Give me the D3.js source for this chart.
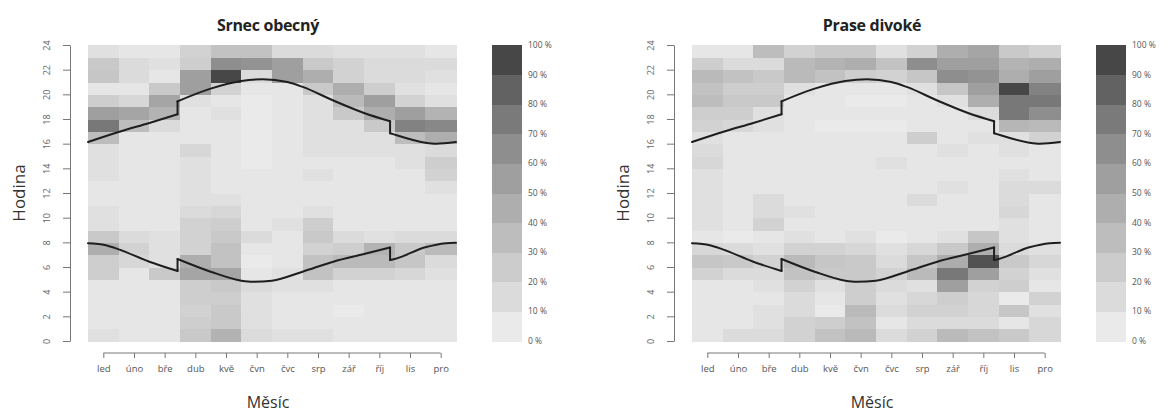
<!DOCTYPE html>
<html>
<head>
<meta charset="utf-8">
<script src="https://cdn.jsdelivr.net/npm/d3@7"></script>
<style>
  body { margin: 0; background: #fff; }
  svg { display: block; font-family: "Open Sans", sans-serif; }
</style>
</head>
<body>
<div id="chart"></div>
<script>
// months on x, hour-of-day on y
var months = ["led", "úno", "bře", "dub", "kvě", "čvn", "čvc", "srp", "zář", "říj", "lis", "pro"]
var hourTicks = [0, 2, 4, 6, 8, 10, 12, 14, 16, 18, 20, 22, 24]
var titles = ["Srnec obecný", "Prase divoké"]

// activity share (%) per hour (row 0 = 0-1 h) and month
var srnec = [
  [12, 8, 8, 27, 42, 15, 12, 12, 8, 8, 8, 8],
  [8, 8, 8, 24, 27, 12, 8, 8, 8, 8, 8, 8],
  [8, 8, 8, 21, 27, 12, 8, 8, 4, 8, 8, 8],
  [8, 8, 8, 24, 24, 12, 8, 8, 8, 8, 8, 8],
  [8, 8, 8, 24, 27, 15, 12, 12, 8, 8, 8, 8],
  [24, 8, 27, 51, 51, 8, 12, 32, 21, 21, 18, 12],
  [24, 18, 12, 45, 32, 4, 8, 32, 37, 37, 29, 15],
  [45, 21, 12, 21, 32, 8, 8, 21, 24, 42, 27, 37],
  [27, 15, 12, 21, 27, 15, 8, 27, 15, 12, 15, 15],
  [12, 8, 8, 21, 24, 8, 12, 24, 8, 8, 8, 8],
  [12, 8, 8, 15, 18, 8, 8, 12, 8, 8, 8, 8],
  [8, 8, 8, 12, 12, 8, 8, 8, 8, 8, 8, 8],
  [8, 8, 8, 12, 8, 8, 8, 8, 8, 8, 8, 12],
  [12, 8, 8, 12, 8, 8, 8, 12, 8, 8, 8, 21],
  [12, 8, 8, 12, 8, 4, 8, 8, 8, 8, 12, 24],
  [12, 8, 8, 18, 8, 4, 8, 12, 12, 12, 12, 15],
  [35, 8, 8, 8, 8, 4, 8, 12, 12, 12, 35, 45],
  [76, 35, 15, 8, 8, 4, 8, 12, 12, 27, 71, 68],
  [55, 51, 42, 8, 12, 4, 8, 12, 27, 45, 55, 42],
  [24, 18, 51, 12, 8, 4, 8, 12, 37, 55, 21, 12],
  [8, 8, 27, 55, 21, 8, 8, 27, 45, 24, 12, 8],
  [29, 15, 8, 55, 96, 15, 55, 45, 21, 15, 15, 12],
  [27, 15, 12, 24, 65, 62, 55, 27, 21, 15, 15, 15],
  [12, 8, 8, 21, 32, 32, 15, 15, 12, 12, 12, 8]
]

var prase = [
  [8, 15, 15, 21, 32, 37, 15, 21, 37, 32, 27, 18],
  [8, 8, 12, 21, 24, 32, 8, 15, 15, 15, 8, 18],
  [8, 8, 12, 15, 4, 37, 15, 21, 21, 18, 29, 12],
  [8, 8, 8, 15, 8, 24, 12, 18, 24, 18, 4, 21],
  [8, 8, 12, 21, 12, 24, 15, 12, 55, 21, 24, 8],
  [21, 15, 15, 32, 27, 27, 21, 37, 76, 55, 21, 12],
  [29, 27, 21, 37, 29, 27, 15, 29, 46, 91, 27, 18],
  [18, 15, 12, 21, 21, 18, 12, 18, 27, 45, 15, 12],
  [8, 4, 8, 12, 8, 12, 4, 8, 12, 29, 12, 8],
  [12, 8, 21, 8, 8, 8, 8, 8, 8, 8, 12, 8],
  [12, 8, 15, 12, 8, 8, 8, 8, 8, 8, 18, 8],
  [12, 8, 15, 8, 8, 8, 8, 15, 8, 8, 15, 8],
  [12, 8, 8, 8, 8, 8, 8, 8, 12, 8, 15, 15],
  [12, 8, 8, 8, 8, 8, 8, 8, 8, 8, 12, 8],
  [18, 8, 8, 8, 8, 8, 12, 8, 8, 8, 8, 8],
  [15, 8, 8, 8, 8, 8, 8, 8, 12, 8, 12, 8],
  [12, 8, 8, 8, 8, 8, 8, 24, 8, 12, 12, 21],
  [21, 18, 12, 8, 4, 4, 4, 8, 8, 8, 40, 37],
  [24, 24, 12, 8, 8, 8, 8, 8, 8, 15, 76, 65],
  [35, 27, 27, 8, 8, 4, 4, 8, 12, 45, 76, 76],
  [32, 24, 24, 12, 8, 8, 8, 12, 29, 55, 96, 71],
  [37, 32, 27, 37, 32, 24, 21, 29, 65, 62, 45, 55],
  [24, 15, 15, 37, 42, 45, 32, 65, 55, 55, 42, 45],
  [8, 8, 35, 21, 27, 27, 12, 21, 45, 51, 27, 21]
]

// sunrise / sunset (hour) read along the year, split at the DST jumps
var sunset = [
  [[0.5, 16.14], [1.5, 16.95], [2.5, 17.68], [3.42, 18.38]],
  [[3.42, 19.43], [4.5, 20.46], [5.5, 21.08], [6.2, 21.22], [7.0, 21.0], [7.5, 20.6], [8.5, 19.5], [9.5, 18.49], [10.35, 17.82]],
  [[10.35, 16.85], [10.5, 16.73], [11.5, 16.08], [11.85, 16.0], [12.5, 16.14]]
]
var sunrise = [
  [[0.5, 7.92], [1.08, 7.76], [1.5, 7.43], [2.5, 6.43], [3.42, 5.68]],
  [[3.42, 6.65], [4.5, 5.62], [5.5, 4.89], [5.87, 4.8], [6.5, 4.89], [7.5, 5.62], [8.5, 6.43], [9.5, 7.05], [10.35, 7.58]],
  [[10.35, 6.57], [10.5, 6.65], [11.5, 7.6], [12.17, 7.93], [12.5, 7.97]]
]

var legendBreaks = [0, 10, 20, 30, 40, 50, 60, 70, 80, 90, 100]
var grays = ["#eaeaea", "#dbdbdb", "#cccccc", "#bdbdbd", "#aeaeae", "#9f9f9f", "#8e8e8e", "#7a7a7a", "#626262", "#474747"]

var width = 1168, height = 415
var panelShift = 604

var color = d3.scaleLinear()
    .domain(legendBreaks.slice(0, 10).map(d => d + 5))
    .range(grays)
    .clamp(true)

var x = d3.scaleLinear().domain([0.5, 12.5]).range([88, 456])
var y = d3.scaleLinear().domain([0, 24]).range([341, 45])
var yLeg = d3.scaleLinear().domain([0, 100]).range([341, 45])

var svg = d3.select('#chart').append('svg')
    .attr('width', width)
    .attr('height', height)

var line = d3.line()
    .x(d => x(d[0]))
    .y(d => y(d[1]))
    .curve(d3.curveMonotoneX)

;[srnec, prase].forEach(function(data, p) {
    var g = svg.append('g').attr('transform', 'translate(' + (p * panelShift) + ',0)')

    // heatmap cells
    var cells = []
    data.forEach(function(row, h) {
        row.forEach(function(v, m) { cells.push({ h: h, m: m + 1, v: v }) })
    })
    g.append('g').selectAll('rect')
        .data(cells)
        .join('rect')
        .attr('x', d => x(d.m - 0.5))
        .attr('y', d => y(d.h + 1))
        .attr('width', x(1.5) - x(0.5) + 0.5)
        .attr('height', y(0) - y(1) + 0.5)
        .attr('fill', d => color(d.v))
        .attr('shape-rendering', 'crispEdges')

    // sun lines
    ;[sunset, sunrise].forEach(function(segs) {
        segs.forEach(function(seg) {
            g.append('path').attr('d', line(seg))
                .attr('fill', 'none').attr('stroke', '#1e1e1e')
                .attr('stroke-width', 2).attr('stroke-linecap', 'round')
        })
        for (var i = 0; i < segs.length - 1; i++) {
            var a = segs[i][segs[i].length - 1], b = segs[i + 1][0]
            g.append('line')
                .attr('x1', x(a[0])).attr('y1', y(a[1]))
                .attr('x2', x(b[0])).attr('y2', y(b[1]))
                .attr('stroke', '#1e1e1e').attr('stroke-width', 2).attr('stroke-linecap', 'round')
        }
    })

    // y axis
    var yAxis = g.append('g')
        .attr('transform', 'translate(70,0)')
        .call(d3.axisLeft(y).tickValues(hourTicks).tickSize(7).tickSizeOuter(0))
    yAxis.select('.domain').attr('stroke', '#777')
    yAxis.selectAll('.tick line').attr('stroke', '#777')
    yAxis.selectAll('.tick text')
        .attr('x', null).attr('dy', '0.35em')
        .attr('transform', 'translate(-23,0) rotate(-90)')
        .attr('text-anchor', 'middle')
        .attr('font-size', 9).attr('fill', '#666')
        .attr('font-family', '"Open Sans", sans-serif')

    // x axis
    var xAxis = g.append('g')
        .attr('transform', 'translate(0,353)')
        .call(d3.axisBottom(x).tickValues(d3.range(1, 13)).tickFormat(d => months[d - 1]).tickSize(5))
    xAxis.select('.domain').attr('d', 'M' + x(1) + ',0H' + x(12)).attr('stroke', '#777')
    xAxis.selectAll('.tick line').attr('stroke', '#777')
    xAxis.selectAll('.tick text')
        .attr('y', 12)
        .attr('font-size', 9.5).attr('fill', '#555')
        .attr('font-family', '"Open Sans", sans-serif')

    // titles and labels
    g.append('text')
        .attr('x', 268).attr('y', 31)
        .attr('text-anchor', 'middle')
        .attr('font-size', 16).attr('font-weight', 'bold').attr('fill', '#222')
        .attr('letter-spacing', -0.3)
        .text(titles[p])
    g.append('text')
        .attr('x', 268).attr('y', 408)
        .attr('text-anchor', 'middle')
        .attr('font-size', 16).attr('fill', '#333')
        .text('Měsíc')
    g.append('text')
        .attr('transform', 'translate(25,193) rotate(-90)')
        .attr('text-anchor', 'middle')
        .attr('font-size', 17).attr('fill', '#333')
        .text('Hodina')

    // legend
    var leg = g.append('g')
    leg.selectAll('rect')
        .data(legendBreaks.slice(0, 10))
        .join('rect')
        .attr('x', 492).attr('width', 30)
        .attr('y', d => yLeg(d + 10))
        .attr('height', yLeg(0) - yLeg(10) + 0.5)
        .attr('fill', d => color(d + 5))
        .attr('shape-rendering', 'crispEdges')
    leg.selectAll('text')
        .data(legendBreaks)
        .join('text')
        .attr('x', 528)
        .attr('y', d => yLeg(d))
        .attr('dy', '0.35em')
        .attr('font-size', 8.5).attr('fill', '#555')
        .text(d => d + ' %')
})
</script>
</body>
</html>
